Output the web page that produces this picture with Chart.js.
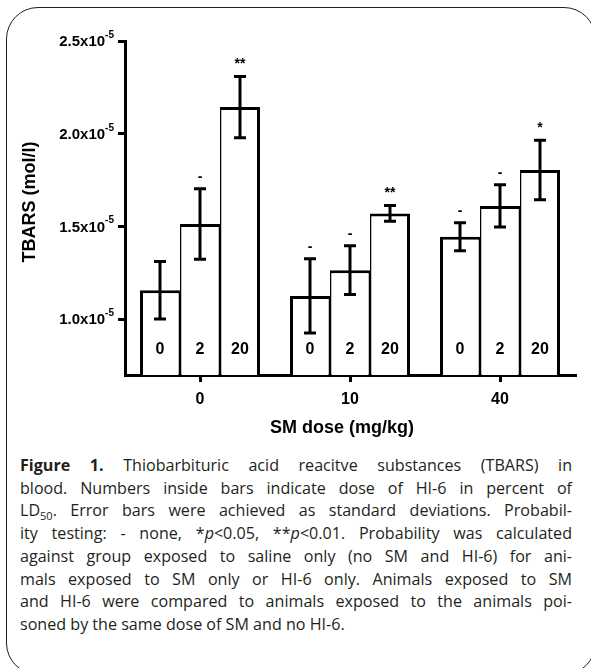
<!DOCTYPE html>
<html>
<head>
<meta charset="utf-8">
<script src="https://cdn.jsdelivr.net/npm/chart.js@4/dist/chart.umd.min.js"></script>
<style>
  html, body { margin: 0; padding: 0; background: #fff; }
  body { width: 591px; height: 668px; position: relative; overflow: hidden; }
  #frame { position: absolute; left: 6px; top: 7px; width: 590px; height: 668px;
           border: 1.5px solid #231f20; border-radius: 32px; box-sizing: border-box; }
  #wrap { position: absolute; left: 0; top: 0; width: 591px; height: 450px; }
  #caption { position: absolute; left: 20px; top: 454px; width: 552px;
             font-family: "Open Sans", sans-serif; font-size: 16.1px;
             line-height: 22.7px; color: #231f20; }
  #caption div { text-align: justify; text-align-last: justify; white-space: nowrap; }
  #caption div.last { text-align-last: left; }
  #caption sub { font-size: 11px; line-height: 0; }
</style>
</head>
<body>
<div id="frame"></div>
<div id="wrap"><canvas id="tbars" width="591" height="450"></canvas></div>
<div id="caption">
  <div><b>Figure 1.</b> Thiobarbituric acid reacitve substances (TBARS) in</div>
  <div>blood. Numbers inside bars indicate dose of HI-6 in percent of</div>
  <div>LD<sub>50</sub>. Error bars were achieved as standard deviations. Probabil-</div>
  <div>ity testing: - none, *<i>p</i>&lt;0.05, **<i>p</i>&lt;0.01. Probability was calculated</div>
  <div>against group exposed to saline only (no SM and HI-6) for ani-</div>
  <div>mals exposed to SM only or HI-6 only. Animals exposed to SM</div>
  <div>and HI-6 were compared to animals exposed to the animals poi-</div>
  <div class="last">soned by the same dose of SM and no HI-6.</div>
</div>
<script>
// SM dose groups (mg/kg)
var smDoses = ["0", "10", "40"];
// HI-6 dose (% of LD50) shown inside the bars
var hiDoses = ["0", "2", "20"];

// TBARS means (mol/l), one array per HI-6 dose
var hi0  = [1.157e-5, 1.126e-5, 1.445e-5];
var hi2  = [1.514e-5, 1.265e-5, 1.611e-5];
var hi20 = [2.144e-5, 1.571e-5, 1.805e-5];

// standard deviations
var sd0  = [0.155e-5, 0.200e-5, 0.075e-5];
var sd2  = [0.190e-5, 0.131e-5, 0.114e-5];
var sd20 = [0.165e-5, 0.043e-5, 0.160e-5];

// significance markers
var sig0  = ["", "-", "-"];
var sig2  = ["-", "-", "-"];
var sig20 = ["**", "**", "*"];

var yTicks = [1.0e-5, 1.5e-5, 2.0e-5, 2.5e-5];
var yTickText = ["1.0", "1.5", "2.0", "2.5"];

var means = [hi0, hi2, hi20];
var sds = [sd0, sd2, sd20];
var sigs = [sig0, sig2, sig20];

var FONT = '"Liberation Sans", Arial, sans-serif';

var annotations = {
	id: 'annotations',
	afterDatasetsDraw: function(chart) {
		var ctx = chart.ctx, y = chart.scales.y, x = chart.scales.x;
		ctx.save();
		ctx.fillStyle = '#000';
		ctx.strokeStyle = '#000';

		// error bars, markers, dose labels
		means.forEach(function(vals, d) {
			var meta = chart.getDatasetMeta(d);
			meta.data.forEach(function(bar, i) {
				var top = y.getPixelForValue(vals[i] + sds[d][i]);
				var bot = y.getPixelForValue(vals[i] - sds[d][i]);
				ctx.lineWidth = 3;
				ctx.beginPath();
				ctx.moveTo(bar.x, top); ctx.lineTo(bar.x, bot);
				ctx.moveTo(bar.x - 6, top); ctx.lineTo(bar.x + 6, top);
				ctx.moveTo(bar.x - 6, bot); ctx.lineTo(bar.x + 6, bot);
				ctx.stroke();

				ctx.textAlign = 'center';
				ctx.textBaseline = 'alphabetic';
				ctx.font = 'bold 14px ' + FONT;
				if (sigs[d][i]) ctx.fillText(sigs[d][i], bar.x, top - 8);

				ctx.textBaseline = 'middle';
				ctx.font = 'bold 16px ' + FONT;
				ctx.fillText(hiDoses[d], bar.x, y.bottom - 25);
			});
		});

		// y tick labels with superscript exponent
		yTicks.forEach(function(v, i) {
			var py = y.getPixelForValue(v);
			ctx.font = 'bold 10px ' + FONT;
			var supW = ctx.measureText('-5').width;
			var xEnd = 114;
			ctx.textAlign = 'left';
			ctx.textBaseline = 'middle';
			ctx.fillText('-5', xEnd - supW, py - 6);
			ctx.font = 'bold 15px ' + FONT;
			ctx.textAlign = 'right';
			ctx.fillText(yTickText[i] + 'x10', xEnd - supW, py + 1);
		});

		// x tick labels
		ctx.font = 'bold 16px ' + FONT;
		ctx.textAlign = 'center';
		ctx.textBaseline = 'middle';
		smDoses.forEach(function(lab, i) {
			ctx.fillText(lab, x.getPixelForTick(i), 400);
		});

		// axis titles
		ctx.font = 'bold 18px ' + FONT;
		ctx.fillText('SM dose (mg/kg)', 342, 428);
		ctx.translate(30, 202);
		ctx.rotate(-Math.PI / 2);
		ctx.fillText('TBARS (mol/l)', 0, 0);
		ctx.restore();
	}
};

var ctx = document.getElementById("tbars").getContext("2d");
new Chart(ctx, {
	type: 'bar',
	data: {
		labels: smDoses,
		datasets: [
			{ label: hiDoses[0], data: hi0, backgroundColor: '#fff', borderColor: '#000',
			  borderWidth: { left: 3, right: 1.5, top: 3, bottom: 0 } },
			{ label: hiDoses[1], data: hi2, backgroundColor: '#fff', borderColor: '#000',
			  borderWidth: { left: 1.5, right: 1.5, top: 3, bottom: 0 } },
			{ label: hiDoses[2], data: hi20, backgroundColor: '#fff', borderColor: '#000',
			  borderWidth: { left: 1.5, right: 3, top: 3, bottom: 0 } }
		]
	},
	options: {
		responsive: false,
		animation: false,
		layout: { padding: { top: 41, right: 16, bottom: 0, left: 0 } },
		datasets: { bar: { barPercentage: 1, categoryPercentage: 0.8 } },
		plugins: { legend: { display: false }, tooltip: { enabled: false } },
		scales: {
			x: {
				afterFit: function(s) { s.height = 75; },
				ticks: { display: false },
				grid: { display: true, drawOnChartArea: false, offset: false, tickLength: 7, lineWidth: 3, color: '#000' },
				border: { display: true, width: 3, color: '#000' }
			},
			y: {
				min: 0.7e-5,
				max: 2.5e-5,
				afterFit: function(s) { s.width = 125; },
				afterBuildTicks: function(s) { s.ticks = yTicks.map(function(v) { return { value: v }; }); },
				ticks: { display: false },
				grid: { display: true, drawOnChartArea: false, tickLength: 7, lineWidth: 3, color: '#000' },
				border: { display: true, width: 3, color: '#000' }
			}
		}
	},
	plugins: [annotations]
});
</script>
</body>
</html>
